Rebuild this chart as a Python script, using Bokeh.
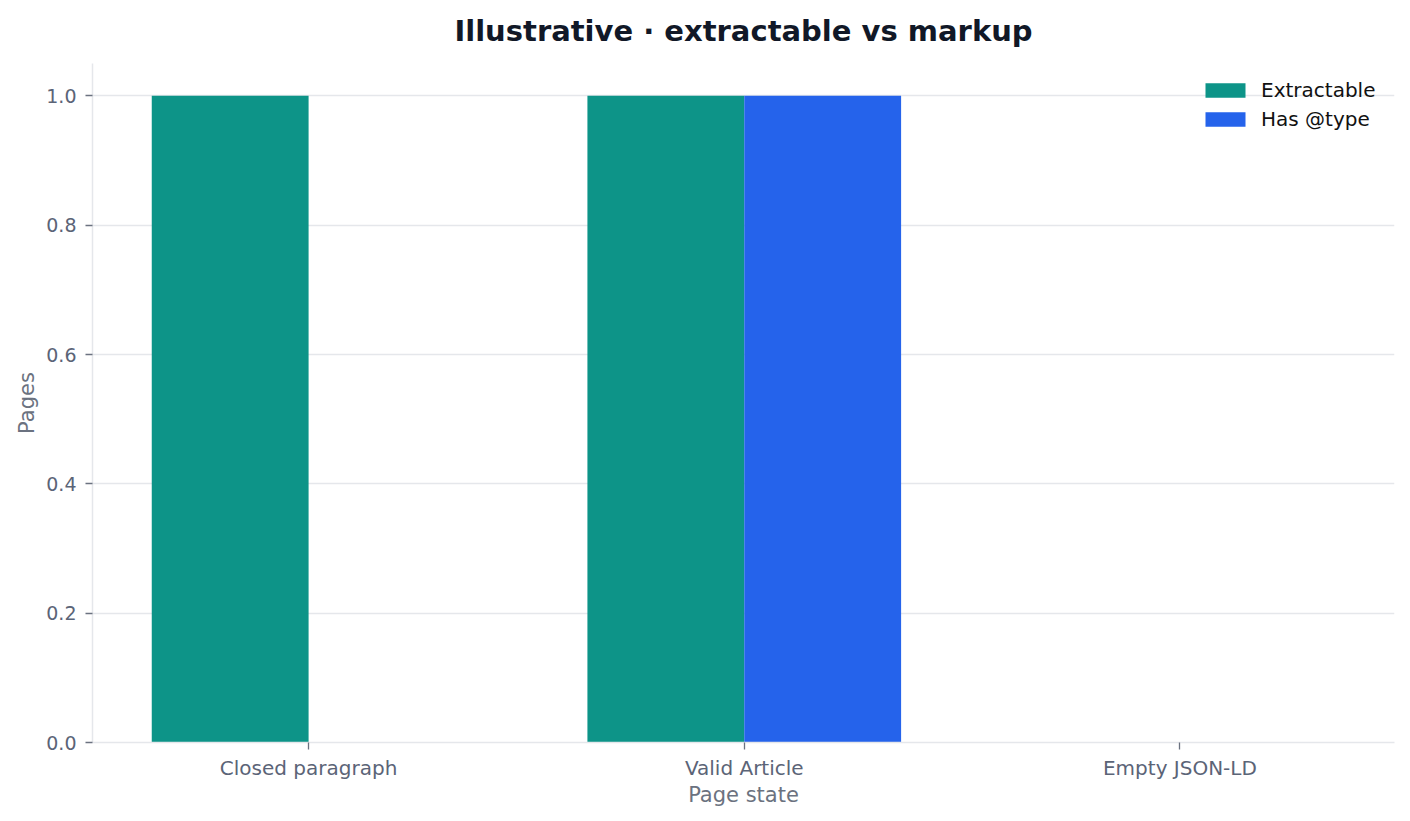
from bokeh.plotting import figure
from bokeh.models import (Range1d, FixedTicker, Legend, LegendItem, ColumnDataSource,
                          PrintfTickFormatter)
from bokeh.transform import dodge
from bokeh.embed import file_html
from bokeh.resources import INLINE

categories = ["Closed paragraph", "Valid Article", "Empty JSON-LD"]
extractable = [1, 1, 0]
has_type = [0, 1, 0]
y_ticks = [0.0, 0.2, 0.4, 0.6, 0.8, 1.0]
series_labels = ["Extractable", "Has @type"]
colors = ["#0d9488", "#2563eb"]

FONT = "DejaVu Sans"
TICK_C = "#5b6477"
LABEL_C = "#6b7280"
LINE_C = "#e5e7eb"
BAR_W = 0.36

positions = list(range(len(categories)))
src = ColumnDataSource(dict(x=positions, extractable=extractable, has_type=has_type))

p = figure(frame_width=1302, frame_height=679,
           x_range=Range1d(-0.496, 2.4925), y_range=Range1d(0, 1.05),
           output_backend="svg", toolbar_location=None,
           min_border_left=92, min_border_right=14, min_border_top=63, min_border_bottom=78)

r1 = p.vbar(x=dodge("x", -BAR_W / 2, range=p.x_range), top="extractable", width=BAR_W,
            source=src, fill_color=colors[0], line_color=None)
r2 = p.vbar(x=dodge("x", BAR_W / 2, range=p.x_range), top="has_type", width=BAR_W,
            source=src, fill_color=colors[1], line_color=None)

p.title.text = "Illustrative · extractable vs markup"
p.title.text_font = FONT
p.title.text_font_size = "29px"
p.title.text_font_style = "bold"
p.title.text_color = "#111827"
p.title.align = "center"
p.title.vertical_align = "top"
p.title.standoff = 27

p.outline_line_color = None
p.background_fill_color = "white"
p.border_fill_color = "white"
p.xgrid.visible = False
p.ygrid.grid_line_color = LINE_C
p.ygrid.grid_line_width = 1.3

p.xaxis.ticker = FixedTicker(ticks=positions)
p.xaxis.major_label_overrides = {i: c for i, c in zip(positions, categories)}
p.yaxis.ticker = FixedTicker(ticks=y_ticks)
p.yaxis.formatter = PrintfTickFormatter(format="%.1f")

for ax in (p.xaxis, p.yaxis):
    ax.axis_line_color = LINE_C
    ax.axis_line_width = 1.5
    ax.major_tick_in = 0
    ax.major_tick_out = 7
    ax.major_tick_line_color = LABEL_C
    ax.major_tick_line_width = 1.3
    ax.minor_tick_line_color = None
    ax.major_label_text_font = FONT
    ax.major_label_text_color = TICK_C
    ax.axis_label_text_font = FONT
    ax.axis_label_text_font_size = "21px"
    ax.axis_label_text_font_style = "normal"
    ax.axis_label_text_color = LABEL_C

p.xaxis.major_label_text_font_size = "20px"
p.yaxis.major_label_text_font_size = "19px"
p.xaxis.axis_label = "Page state"
p.yaxis.axis_label = "Pages"
p.xaxis.major_label_standoff = 6
p.yaxis.major_label_standoff = 9
p.xaxis.axis_label_standoff = 0
p.yaxis.axis_label_standoff = 4

legend = Legend(items=[LegendItem(label=series_labels[0], renderers=[r1]),
                       LegendItem(label=series_labels[1], renderers=[r2])],
                location="top_right")
legend.border_line_color = None
legend.background_fill_alpha = 0
legend.label_text_font = FONT
legend.label_text_font_size = "20px"
legend.label_text_color = "#111111"
legend.glyph_width = 50
legend.glyph_height = 18
legend.label_standoff = 11
legend.label_width = 118
legend.spacing = 5
legend.margin = 15
legend.padding = 10
p.add_layout(legend)

open("out.html", "w").write(file_html(p, INLINE))
